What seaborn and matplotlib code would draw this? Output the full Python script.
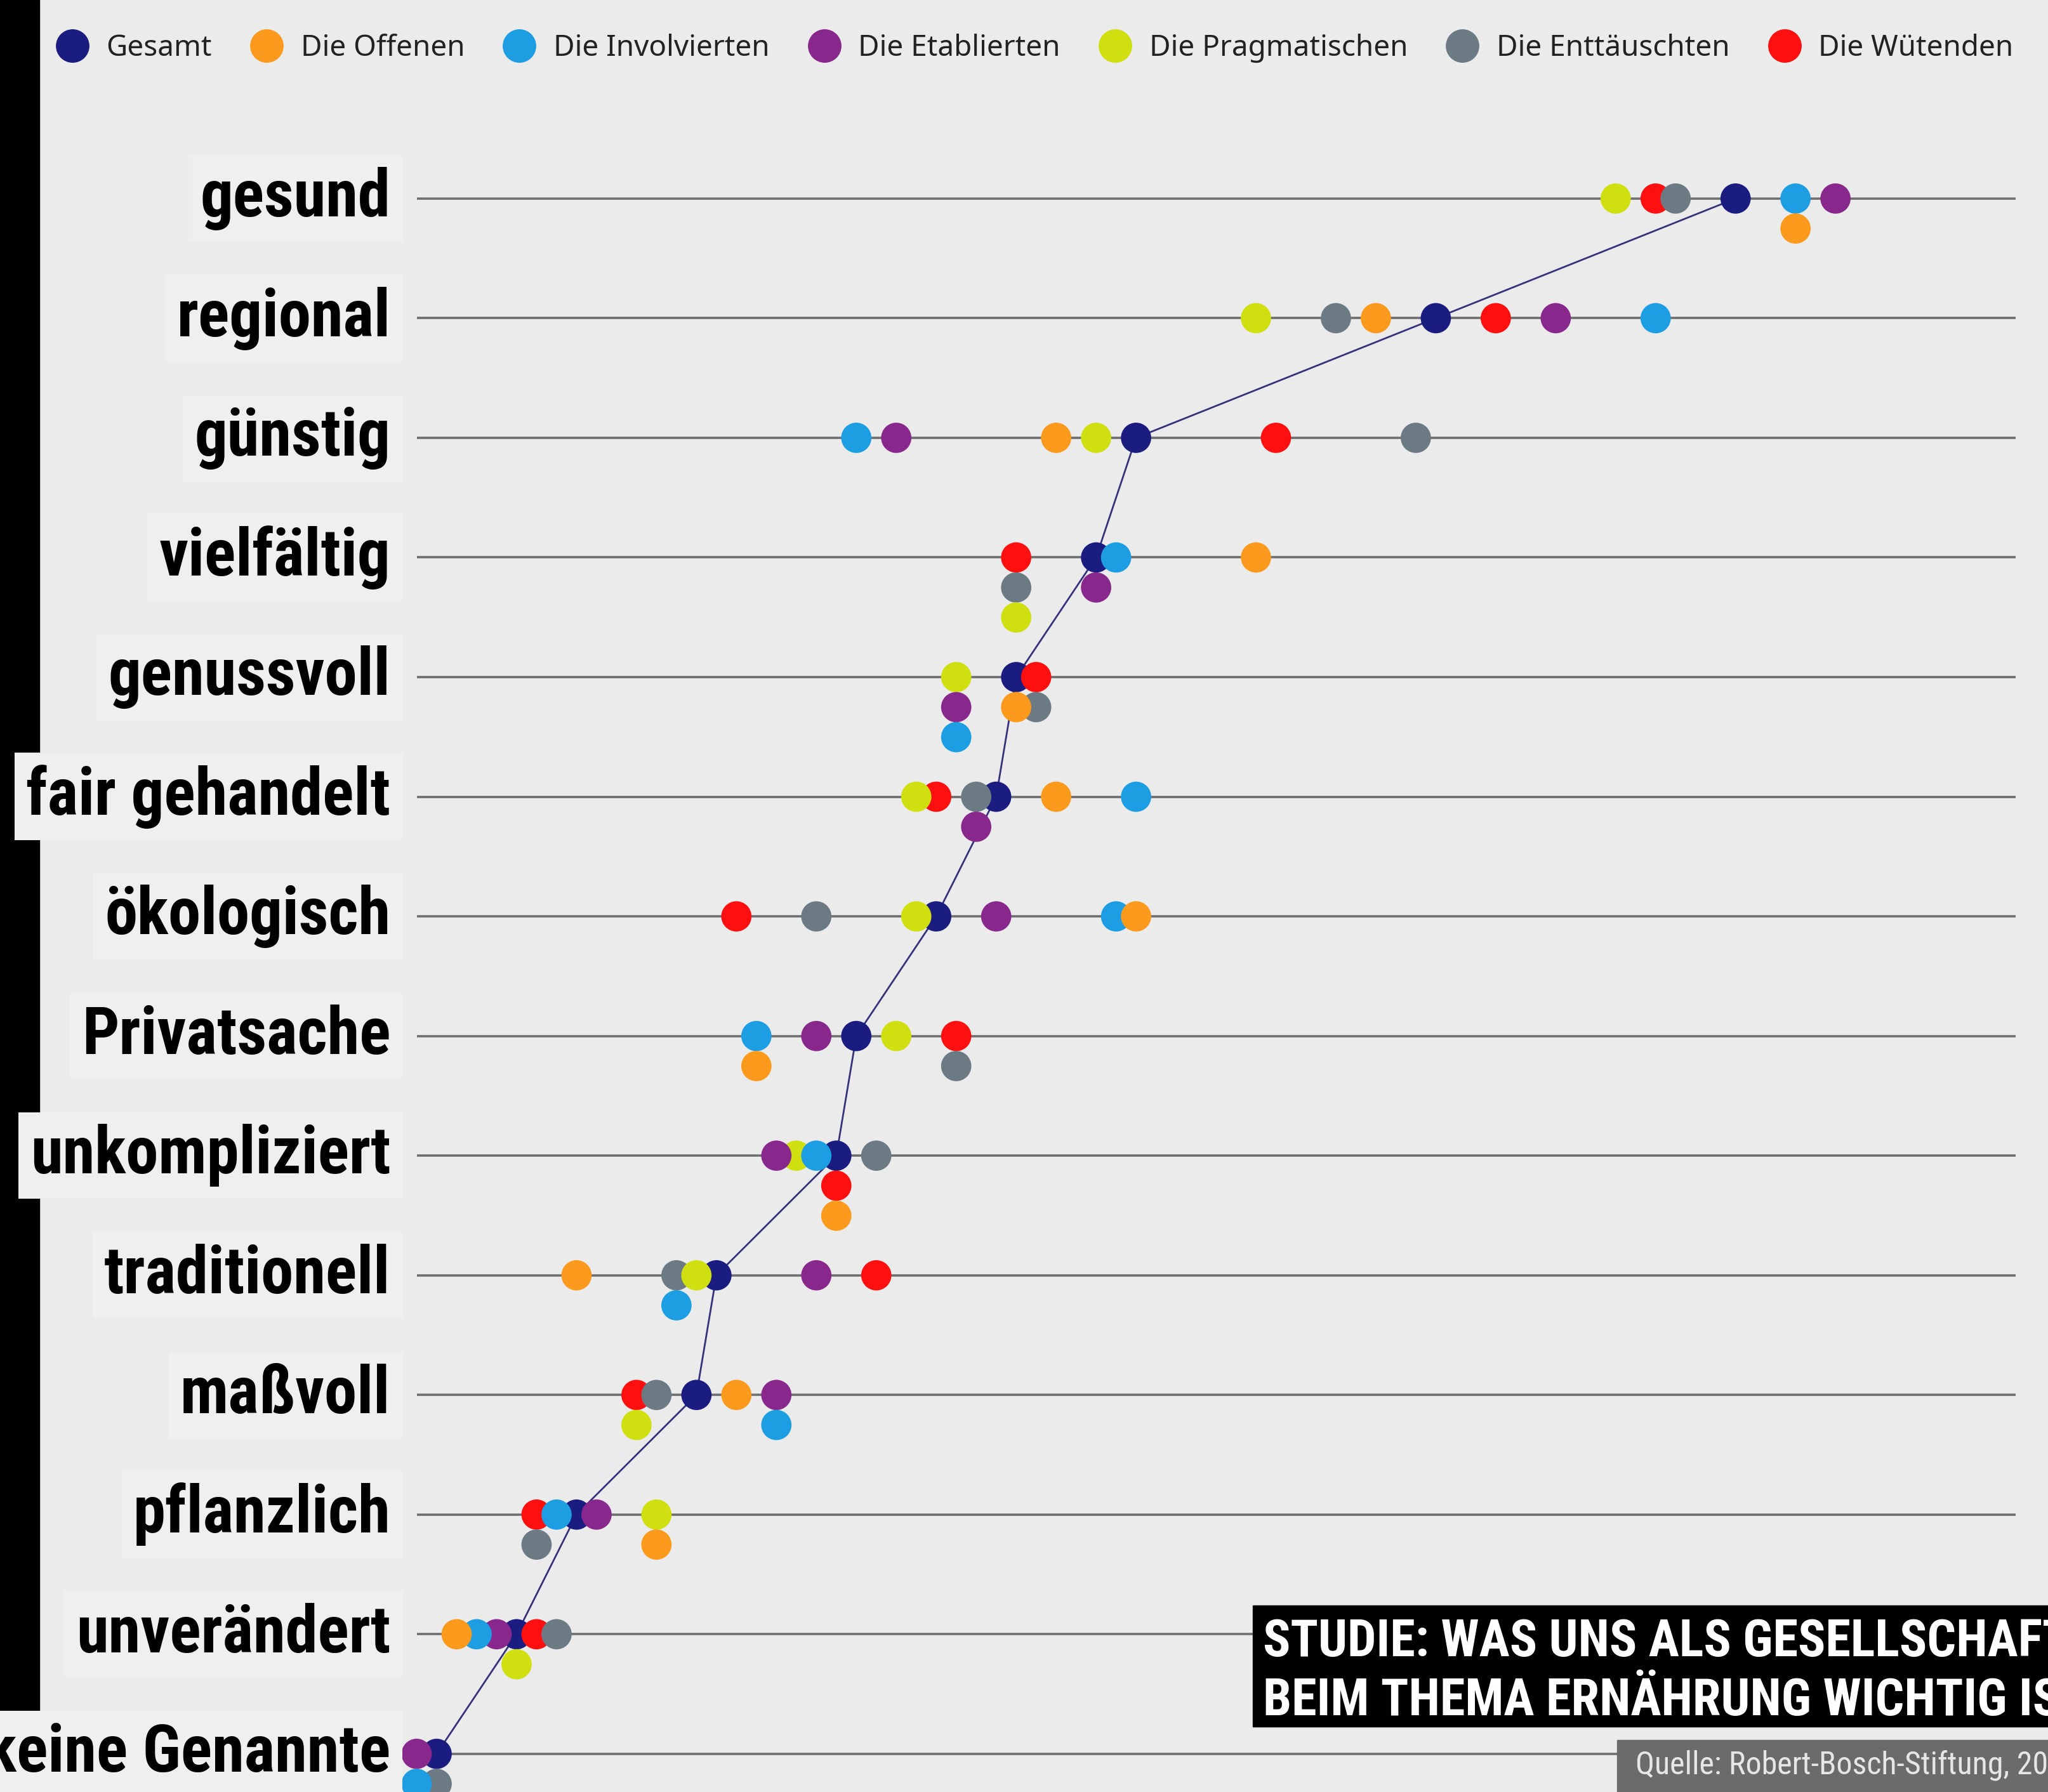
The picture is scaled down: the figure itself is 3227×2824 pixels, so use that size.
import numpy as np
import pandas as pd
import matplotlib
matplotlib.use('Agg')
import matplotlib.pyplot as plt
import matplotlib.transforms as mtransforms
import seaborn as sns
from matplotlib import font_manager
from matplotlib.lines import Line2D
from matplotlib.patches import Rectangle


# Daten (Anteil in Prozent)

kategorien = ['gesund', 'regional', 'günstig', 'vielfältig', 'genussvoll',
              'fair gehandelt', 'ökologisch', 'Privatsache', 'unkompliziert',
              'traditionell', 'maßvoll', 'pflanzlich', 'unverändert',
              'keine Genannte']

gesamt        = [66, 51, 36, 34, 30, 29, 26, 22, 21, 15, 14, 8, 5, 1]
offenen       = [69, 48, 32, 42, 30, 32, 36, 17, 21, 8, 16, 12, 2, 1]
involvierten  = [69, 62, 22, 35, 27, 36, 35, 17, 20, 13, 18, 7, 3, 0]
etablierten   = [71, 57, 24, 34, 27, 28, 29, 20, 18, 20, 18, 9, 4, 0]
pragmatischen = [60, 42, 34, 30, 27, 25, 25, 24, 19, 14, 11, 12, 5, None]
enttaeuschten = [63, 46, 50, 30, 31, 28, 20, 27, 23, 13, 12, 6, 7, 1]
wuetenden     = [62, 54, 43, 30, 31, 26, 16, 27, 21, 23, 11, 6, 6, None]

gruppen = ['Gesamt', 'Die Offenen', 'Die Involvierten', 'Die Etablierten',
           'Die Pragmatischen', 'Die Enttäuschten', 'Die Wütenden']
farben = ['#1b1c80', '#fb9a1c', '#1d9de2', '#88288c', '#cfdf10', '#6c7a83', '#fe1010']

# Reihenfolge beim Stapeln gleicher Werte (und beim Zeichnen)
stapel_reihenfolge = ['Gesamt', 'Die Wütenden', 'Die Enttäuschten', 'Die Pragmatischen',
                      'Die Etablierten', 'Die Involvierten', 'Die Offenen']

quelle = 'Quelle: Robert-Bosch-Stiftung, 2024'
titel_zeilen = ['STUDIE: WAS UNS ALS GESELLSCHAFT', 'BEIM THEMA ERNÄHRUNG WICHTIG IST']


# DataFrame bauen

werte = dict(zip(gruppen, [gesamt, offenen, involvierten, etablierten,
                           pragmatischen, enttaeuschten, wuetenden]))
rows = []
for g in stapel_reihenfolge:
    for i, k in enumerate(kategorien):
        if werte[g][i] is not None:
            rows.append({'kategorie': k, 'zeile': i, 'gruppe': g, 'wert': werte[g][i]})
df = pd.DataFrame(rows)
df['ebene'] = df.groupby(['kategorie', 'wert']).cumcount()
df['pos'] = df['zeile'] + df['ebene'] * 0.251


# Schriften

namen = {f.name for f in font_manager.fontManager.ttflist}
label_font = 'DejaVu Sans'
label_stretch = 'condensed'
for cand in ['Roboto Condensed', 'Liberation Sans Narrow', 'Open Sans Condensed']:
    if cand in namen:
        label_font = cand
        label_stretch = 'normal'
        break

sns.set_theme(style='white')
plt.rcParams['font.family'] = ['Noto Sans', 'DejaVu Sans']

BG = '#ebebeb'
W, H = 1568, 1372  # Bezugsgroesse fuer das Layout

fig = plt.figure(figsize=(32.27, 28.24), dpi=100, facecolor=BG)
ax = fig.add_axes([319 / W, 0, 1224 / W, 1])
ax.set_xlim(0, 80)
ax.set_ylim((H - 152) / 91.6, -152 / 91.6)
ax.axis('off')

# Linien je Kategorie
ax.hlines(range(len(kategorien)), 0, 80, color='#6e6e6e', lw=2.6, zorder=1)

# Verbindungslinie Gesamt
sns.lineplot(data=df[df['gruppe'] == 'Gesamt'], x='wert', y='pos', sort=False,
             estimator=None, color='#35327c', lw=2.0, ax=ax, zorder=2, legend=False)

# Punkte
sns.scatterplot(data=df, x='wert', y='pos', hue='gruppe',
                palette=dict(zip(gruppen, farben)), s=1180, linewidth=0,
                legend=False, ax=ax, zorder=3, clip_on=False)
ax.set_xlabel('')
ax.set_ylabel('')

# Beschriftungen links
trans = mtransforms.blended_transform_factory(fig.transFigure, ax.transData)
for i, k in enumerate(kategorien):
    ax.text(299 / W, i + 0.15, k, transform=trans, ha='right', va='baseline',
            family=label_font, stretch=label_stretch, fontweight='bold',
            fontsize=74, color='black', zorder=6, clip_on=False,
            bbox=dict(boxstyle='square,pad=0.18', fc='#efefef', ec='none'))

# schwarzer Balken links
fig.patches.append(Rectangle((0, 0), 30 / W, 1, transform=fig.transFigure,
                             color='black', zorder=-1))

# Legende
handles = [Line2D([], [], marker='o', ls='', markersize=37, color=c) for c in farben]
fig.legend(handles, gruppen, loc='center left', bbox_to_anchor=(43 / W, 1 - 37 / H),
           ncol=7, frameon=False, fontsize=33, handlelength=1.1, handletextpad=0.62,
           columnspacing=1.33, borderpad=0, borderaxespad=0, labelcolor='#222222')

# Titelbox unten rechts
fig.patches.append(Rectangle((959 / W, 1 - 1322 / H), 1 - 959 / W, 93 / H,
                             transform=fig.transFigure, color='black', zorder=5))
for zeile, basis in zip(titel_zeilen, [1268, 1313]):
    fig.text(967 / W, 1 - basis / H, zeile, ha='left', va='baseline', color='white',
             family=label_font, stretch=label_stretch, fontweight='bold', fontsize=58,
             zorder=6)

# Quellenbox
fig.patches.append(Rectangle((1238 / W, 0), 1 - 1238 / W, 1 - 1332 / H,
                             transform=fig.transFigure, color='#6b6b6b', zorder=5))
fig.text(1252 / W, 1 - 1358 / H, quelle, ha='left', va='baseline', color='#e6e6e6',
         family=label_font, stretch=label_stretch, fontsize=36, zorder=6)

fig.savefig('out.png', dpi=100, facecolor=BG)
